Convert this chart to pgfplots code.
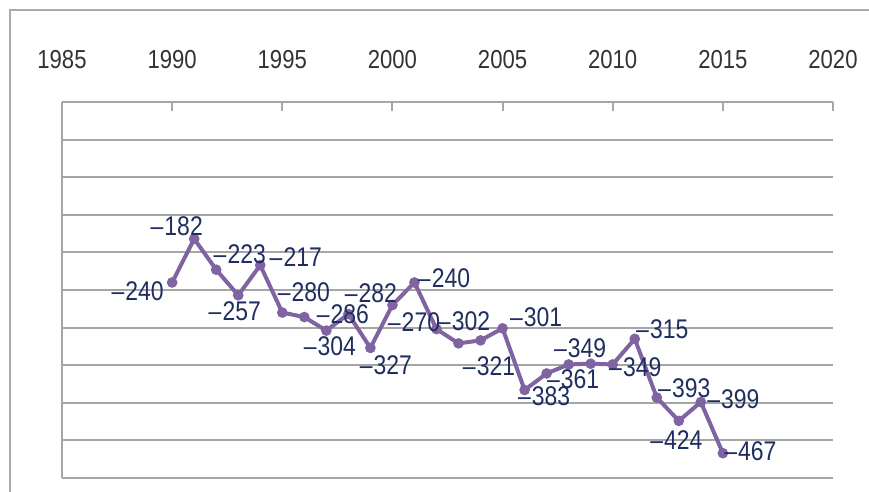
\documentclass[border=0pt]{standalone}
\usepackage{pgfplots}
\pgfplotsset{compat=1.18}
\usepackage{pgfplotstable}
\usepackage{fontspec}
\setmainfont{Liberation Sans}[FakeStretch=0.85]
\definecolor{linepurple}{RGB}{128,100,162}
\definecolor{labnavy}{RGB}{31,45,96}
\definecolor{gridgray}{RGB}{166,166,166}
\definecolor{framegray}{RGB}{170,170,170}
\definecolor{ticktext}{RGB}{50,50,50}

\pgfplotstableread{
year val
1990 -240
1991 -182
1992 -223
1993 -257
1994 -217
1995 -280
1996 -286
1997 -304
1998 -282
1999 -327
2000 -270
2001 -240
2002 -302
2003 -321
2004 -317
2005 -301
2006 -383
2007 -361
2008 -349
2009 -348
2010 -349
2011 -315
2012 -393
2013 -424
2014 -399
2015 -467
}\linedata

\pgfplotstableread{
year val lbl dx dy
1990 -240 240 -35 -9
1991 -182 182 -18 13
1992 -223 223 23 15
1993 -257 257 -4 -16
1994 -217 217 35 8
1995 -280 280 21 20
1996 -286 286 38 3
1997 -304 304 3 -16
1998 -282 282 22 21
1999 -327 327 15 -17
2000 -270 270 21 -17
2001 -240 240 29 4
2002 -302 302 27 8
2003 -321 321 30 -23
2005 -301 301 33 11
2006 -383 383 19 -6
2007 -361 361 26 -6
2008 -349 349 11 16
2010 -349 349 22 -3
2011 -315 315 27 10
2012 -393 393 27 9
2013 -424 424 -3 -19
2014 -399 399 32 3
2015 -467 467 27 2
}\labeldata

\begin{document}
\begin{tikzpicture}
\useasboundingbox (0,0) rectangle (434.5pt,246pt);
\draw[framegray, line width=1pt] (5pt,0pt) -- (5pt,241pt) -- (434.5pt,241pt);
\begin{axis}[
  at={(31pt,7pt)}, anchor=south west,
  width=385.5pt, height=188pt, scale only axis,
  xmin=1985, xmax=2020, ymin=-500, ymax=0,
  axis x line=top, axis y line=left,
  axis line style={-, color=gridgray, line width=1pt},
  xtick={1985,1990,...,2020},
  ytick={-500,-450,...,0},
  yticklabels={},
  ytick style={draw=none},
  xtick style={color=gridgray, line width=1pt},
  tick align=inside,
  major tick length=4.5pt,
  ymajorgrids,
  major grid style={color=gridgray, line width=1pt},
  /pgf/number format/1000 sep={},
  /pgf/number format/assume math mode=true,
  xticklabel style={anchor=center, yshift=21pt, font=\fontsize{13}{15}\selectfont, text=ticktext},
  clip=false,
]
\addplot[color=linepurple, line width=2pt, mark=*, mark size=1.6pt, mark options={fill=linepurple, draw=linepurple}]
  table[x=year, y=val] {\linedata};
\addplot[draw=none, mark=none,
  point meta=explicit symbolic,
  visualization depends on={\thisrow{dx}\as\ldx},
  visualization depends on={\thisrow{dy}\as\ldy},
  nodes near coords={\kern0.04em--\kern0.04em\pgfplotspointmeta},
  every node near coord/.append style={anchor=center, xshift={0.5*\ldx}, yshift={0.5*\ldy}, font=\fontsize{13.5}{15}\selectfont, text=labnavy, inner sep=0pt},
] table[x=year, y=val, meta=lbl] {\labeldata};
\end{axis}
\end{tikzpicture}
\end{document}
